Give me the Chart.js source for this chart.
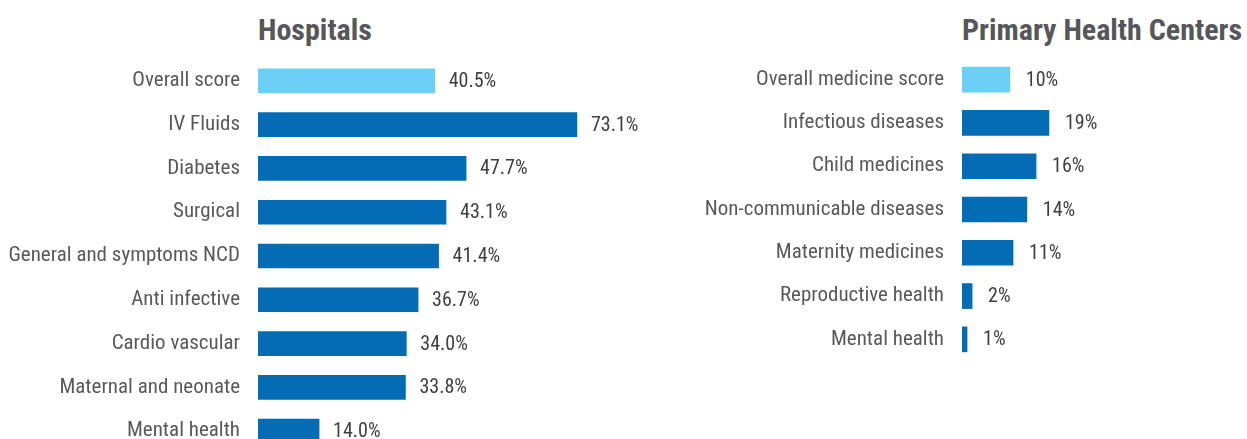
<!DOCTYPE html>
<html>
<head>
<meta charset="utf-8">
<script src="https://cdn.jsdelivr.net/npm/chart.js@4"></script>
<style>
  html, body { margin: 0; padding: 0; background: #fff; overflow: hidden; }
  body { width: 1247px; height: 439px; position: relative; font-family: 'Roboto Condensed', 'Liberation Sans Narrow', 'DejaVu Sans Condensed', Roboto, sans-serif; }
  .title { position: absolute; top: 12px; font-size: 30px; font-weight: bold; color: #555759; white-space: nowrap; }
  #hospChart { position: absolute; left: 0; top: 0; }
  #phcChart { position: absolute; left: 640px; top: 0; }
</style>
</head>
<body>
<div class="title" style="left:258px">Hospitals</div>
<div class="title" style="left:962px">Primary Health Centers</div>
<canvas id="hospChart" width="640" height="460"></canvas>
<canvas id="phcChart" width="607" height="439"></canvas>
<script>
const FONT = "'Roboto Condensed', 'Liberation Sans Narrow', 'DejaVu Sans Condensed', Roboto, sans-serif";

// Hospitals
const hospLabels = ['Overall score', 'IV Fluids', 'Diabetes', 'Surgical', 'General and symptoms NCD',
    'Anti infective', 'Cardio vascular', 'Maternal and neonate', 'Mental health'];
const hospValues = [40.5, 73.1, 47.7, 43.1, 41.4, 36.7, 34.0, 33.8, 14.0];

// Primary Health Centers
const phcLabels = ['Overall medicine score', 'Infectious diseases', 'Child medicines', 'Non-communicable diseases',
    'Maternity medicines', 'Reproductive health', 'Mental health'];
const phcValues = [10.4, 18.9, 16.1, 14.1, 11.1, 2.2, 1.1];

const LIGHT = '#6ccff6';
const DARK = '#046bb5';

// value labels next to the bar ends
const valueLabels = {
    id: 'valueLabels',
    afterDatasetsDraw(chart, args, opts) {
        const ctx = chart.ctx;
        const meta = chart.getDatasetMeta(0);
        ctx.save();
        ctx.font = '20px ' + FONT;
        ctx.fillStyle = '#404040';
        ctx.textBaseline = 'middle';
        ctx.textAlign = 'left';
        meta.data.forEach((bar, i) => {
            const v = chart.data.datasets[0].data[i];
            ctx.fillText(opts.fmt(v), bar.x + opts.gap, bar.y + 1);
        });
        ctx.restore();
    }
};

function makeChart(id, labels, values, cfg) {
    return new Chart(document.getElementById(id), {
        type: 'bar',
        data: {
            labels: labels,
            datasets: [{
                data: values,
                backgroundColor: values.map((v, i) => i === 0 ? LIGHT : DARK),
                barThickness: cfg.thickness,
                borderWidth: 0
            }]
        },
        options: {
            indexAxis: 'y',
            responsive: false,
            animation: false,
            layout: { padding: cfg.padding },
            plugins: {
                legend: { display: false },
                tooltip: { enabled: false },
                valueLabels: { fmt: cfg.fmt, gap: cfg.gap }
            },
            scales: {
                x: { display: false, min: 0, max: cfg.max },
                y: {
                    grid: { display: false, drawTicks: false },
                    border: { display: false },
                    ticks: {
                        color: '#595959',
                        padding: cfg.tickPad,
                        font: { family: FONT, size: 21 }
                    },
                    afterFit(scale) {
                        scale.width = cfg.axisWidth;
                        // labels sit on category centres, no extra room needed
                        scale.paddingTop = 0;
                        scale.paddingBottom = 0;
                    }
                }
            }
        },
        plugins: [valueLabels]
    });
}

// last hospital row runs past the bottom edge, as in the source
makeChart('hospChart', hospLabels, hospValues, {
    thickness: 24,
    max: 80,
    axisWidth: 258,
    tickPad: 18,
    gap: 14,
    padding: { top: 59, bottom: 7, right: 33, left: 0 },
    fmt: v => v.toFixed(1) + '%'
});

makeChart('phcChart', phcLabels, phcValues, {
    thickness: 25,
    max: 40,
    axisWidth: 322,
    tickPad: 18,
    gap: 16,
    padding: { top: 58, bottom: 78, right: 101, left: 0 },
    fmt: v => Math.round(v) + '%'
});
</script>
</body>
</html>
